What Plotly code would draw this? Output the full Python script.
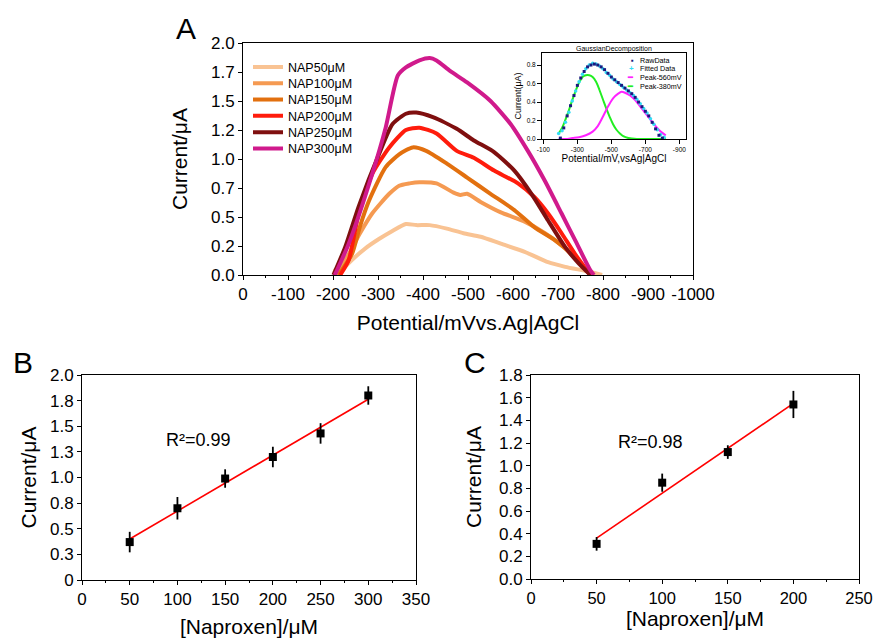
import numpy as np
import plotly.graph_objects as go

W, H = 875, 638
FONT = "Liberation Sans, Arial, sans-serif"

def fx(p):
    return p / W

def fy(p):
    return 1 - p / H

# ---------------- Panel A data (potential mV, current uA) ----------------
series_names = ["NAP50μM", "NAP100μM", "NAP150μM", "NAP200μM", "NAP250μM", "NAP300μM"]
series_colors = ["#F9C393", "#F59A52", "#E2700F", "#FF1C0C", "#7F0F0F", "#D01A8C"]

nap50_x = [-200, -215, -242, -272, -302, -332, -362, -385, -415, -453, -490, -528, -573, -626, -678, -716, -768, -798]
nap50_y = [0.04, 0.03, 0.13, 0.23, 0.31, 0.38, 0.44, 0.43, 0.43, 0.40, 0.36, 0.33, 0.27, 0.20, 0.11, 0.07, 0.03, 0.0]

nap100_x = [-208, -235, -260, -287, -325, -347, -370, -392, -430, -468, -483, -498, -528, -573, -626, -671, -716, -761, -776]
nap100_y = [0.0, 0.18, 0.36, 0.53, 0.70, 0.77, 0.79, 0.80, 0.79, 0.71, 0.69, 0.70, 0.63, 0.54, 0.46, 0.36, 0.23, 0.05, 0.0]

nap150_x = [-212, -242, -260, -280, -317, -347, -377, -407, -453, -498, -550, -603, -648, -693, -738, -772]
nap150_y = [0.0, 0.18, 0.42, 0.64, 0.93, 1.04, 1.10, 1.07, 0.96, 0.84, 0.70, 0.56, 0.41, 0.30, 0.15, 0.0]

nap200_x = [-216, -235, -257, -287, -325, -362, -392, -430, -475, -513, -558, -611, -648, -678, -708, -738, -772]
nap200_y = [0.0, 0.13, 0.53, 0.87, 1.10, 1.25, 1.27, 1.22, 1.07, 1.01, 0.90, 0.79, 0.67, 0.53, 0.36, 0.18, 0.0]

nap250_x = [-201, -227, -257, -302, -332, -362, -385, -422, -475, -513, -558, -603, -641, -678, -716, -746, -772]
nap250_y = [0.0, 0.24, 0.59, 1.04, 1.30, 1.39, 1.40, 1.36, 1.26, 1.16, 1.06, 0.90, 0.70, 0.47, 0.24, 0.10, 0.0]

nap300_x = [-204, -235, -287, -317, -344, -362, -392, -415, -430, -460, -498, -550, -595, -633, -671, -708, -738, -772, -780]
nap300_y = [0.0, 0.27, 0.87, 1.27, 1.72, 1.79, 1.85, 1.87, 1.85, 1.76, 1.66, 1.50, 1.30, 1.07, 0.81, 0.53, 0.30, 0.04, 0.0]

series_x = [nap50_x, nap100_x, nap150_x, nap200_x, nap250_x, nap300_x]
series_y = [nap50_y, nap100_y, nap150_y, nap200_y, nap250_y, nap300_y]

a_xticks = [0, -100, -200, -300, -400, -500, -600, -700, -800, -900, -1000]
a_xticklabels = ["0", "-100", "-200", "-300", "-400", "-500", "-600", "-700", "-800", "-900", "-1000"]
a_yticks = [0, 0.25, 0.5, 0.75, 1.0, 1.25, 1.5, 1.75, 2.0]
a_yticklabels = ["0.0", "0.2", "0.5", "0.7", "1.0", "1.2", "1.5", "1.7", "2.0"]

# ---------------- Inset data (Gaussian decomposition) ----------------
raw_x = [-200, -220, -240, -260, -280, -300, -320, -340, -360, -380, -400, -420, -440, -460, -480, -500,
         -520, -540, -560, -580, -600, -620, -640, -660, -680, -700, -720, -740, -760, -780, -800]
raw_y = [0.01, 0.12, 0.25, 0.36, 0.47, 0.58, 0.66, 0.73, 0.78, 0.80, 0.81, 0.80, 0.78, 0.75, 0.71, 0.67,
         0.64, 0.61, 0.58, 0.55, 0.52, 0.49, 0.45, 0.40, 0.35, 0.30, 0.25, 0.18, 0.11, 0.04, 0.01]

fit_x = [-190, -210, -230, -250, -270, -290, -310, -330, -350, -370, -390, -410, -430, -450, -470, -490,
         -510, -530, -550, -570, -590, -610, -630, -650, -670, -690, -710, -730, -750, -770, -790, -810]
fit_y = [0.06, 0.09, 0.18, 0.29, 0.41, 0.52, 0.62, 0.70, 0.76, 0.80, 0.82, 0.81, 0.79, 0.76, 0.72, 0.69,
         0.65, 0.62, 0.59, 0.56, 0.53, 0.50, 0.47, 0.43, 0.38, 0.33, 0.28, 0.22, 0.16, 0.10, 0.05, 0.02]

p560_x = [-190, -230, -270, -310, -350, -390, -420, -450, -480, -510, -540, -560, -580, -610, -640, -670,
          -700, -730, -760, -790, -820]
p560_y = [0.0, 0.0, 0.01, 0.02, 0.04, 0.08, 0.14, 0.24, 0.35, 0.44, 0.49, 0.51, 0.50, 0.47, 0.42, 0.35,
          0.28, 0.21, 0.14, 0.08, 0.04]

p380_x = [-190, -210, -230, -250, -270, -290, -310, -330, -350, -370, -390, -410, -430, -450, -470, -490,
          -510, -530, -550, -570, -600, -650, -700, -750, -800, -820]
p380_y = [0.06, 0.12, 0.21, 0.31, 0.42, 0.52, 0.61, 0.67, 0.69, 0.69, 0.67, 0.62, 0.53, 0.43, 0.33, 0.24,
          0.16, 0.10, 0.06, 0.03, 0.01, 0.0, 0.0, 0.0, 0.0, 0.0]

inset_xticks = [-100, -300, -500, -700, -900]
inset_xticklabels = ["-100", "-300", "-500", "-700", "-900"]
inset_yticks = [0.0, 0.2, 0.4, 0.6, 0.8]
inset_yticklabels = ["0.0", "0.2", "0.4", "0.6", "0.8"]

# ---------------- Panel B data ----------------
b_conc = [50, 100, 150, 200, 250, 300]
b_current = [0.37, 0.70, 0.99, 1.20, 1.43, 1.80]
b_err = [0.10, 0.11, 0.09, 0.10, 0.10, 0.09]
b_r2 = "R²=0.99"
b_xticks = [0, 50, 100, 150, 200, 250, 300, 350]
b_yticks = [0, 0.25, 0.5, 0.75, 1.0, 1.25, 1.5, 1.75, 2.0]
b_yticklabels = ["0", "0.3", "0.5", "0.8", "1.0", "1.3", "1.5", "1.8", "2.0"]

# ---------------- Panel C data ----------------
c_conc = [50, 100, 150, 200]
c_current = [0.31, 0.85, 1.12, 1.54]
c_err = [0.06, 0.08, 0.06, 0.12]
c_r2 = "R²=0.98"
c_xticks = [0, 50, 100, 150, 200, 250]
c_yticks = [0.0, 0.2, 0.4, 0.6, 0.8, 1.0, 1.2, 1.4, 1.6, 1.8]
c_yticklabels = ["0.0", "0.2", "0.4", "0.6", "0.8", "1.0", "1.2", "1.4", "1.6", "1.8"]

fig = go.Figure()

# Panel A curves, one legend per entry to reproduce tight spacing
leg_row0 = 67.3
leg_step = 16.3
for i, (name, col, xs, ys) in enumerate(zip(series_names, series_colors, series_x, series_y)):
    leg_id = "legend" if i == 0 else f"legend{i + 1}"
    fig.add_trace(go.Scatter(
        x=xs, y=ys, mode="lines", name=name,
        line=dict(color=col, width=4, shape="spline", smoothing=0.6),
        xaxis="x", yaxis="y", legend=leg_id, showlegend=True,
    ))

# Inset traces
fig.add_trace(go.Scatter(x=p380_x, y=p380_y, mode="lines", name="Peak-380mV",
                         line=dict(color="#22EE22", width=2, shape="spline"),
                         xaxis="x2", yaxis="y2", showlegend=False))
fig.add_trace(go.Scatter(x=p560_x, y=p560_y, mode="lines", name="Peak-560mV",
                         line=dict(color="#FF22FF", width=2, shape="spline"),
                         xaxis="x2", yaxis="y2", showlegend=False))
fig.add_trace(go.Scatter(x=fit_x, y=fit_y, mode="markers", name="Fitted Data",
                         marker=dict(color="#33DDF5", size=3.5, symbol="circle"),
                         xaxis="x2", yaxis="y2", showlegend=False))
fig.add_trace(go.Scatter(x=raw_x, y=raw_y, mode="markers", name="RawData",
                         marker=dict(color="#1A1A80", size=3, symbol="square"),
                         xaxis="x2", yaxis="y2", showlegend=False))

# Panel B
b_coef = np.polyfit(b_conc, b_current, 1)
b_fit_x = [min(b_conc), max(b_conc)]
b_fit_y = [b_coef[0] * v + b_coef[1] for v in b_fit_x]
fig.add_trace(go.Scatter(x=b_fit_x, y=b_fit_y, mode="lines", line=dict(color="#FF0000", width=1.6),
                         xaxis="x3", yaxis="y3", showlegend=False))
fig.add_trace(go.Scatter(x=b_conc, y=b_current, mode="markers",
                         marker=dict(color="black", size=8, symbol="square"),
                         error_y=dict(type="data", array=b_err, color="black", thickness=1.8, width=0),
                         xaxis="x3", yaxis="y3", showlegend=False))

# Panel C
c_coef = np.polyfit(c_conc, c_current, 1)
c_fit_x = [min(c_conc), max(c_conc)]
c_fit_y = [c_coef[0] * v + c_coef[1] for v in c_fit_x]
fig.add_trace(go.Scatter(x=c_fit_x, y=c_fit_y, mode="lines", line=dict(color="#FF0000", width=1.6),
                         xaxis="x4", yaxis="y4", showlegend=False))
fig.add_trace(go.Scatter(x=c_conc, y=c_current, mode="markers",
                         marker=dict(color="black", size=8, symbol="square"),
                         error_y=dict(type="data", array=c_err, color="black", thickness=1.8, width=0),
                         xaxis="x4", yaxis="y4", showlegend=False))

def axis_common(size=17):
    return dict(showline=True, linecolor="black", linewidth=1, mirror=True,
                showgrid=False, zeroline=False, ticks="outside", ticklen=4, tickwidth=1,
                tickcolor="black", tickfont=dict(family=FONT, size=size, color="black"),
                automargin=False, ticklabeloverflow="allow")

title_font = dict(family=FONT, size=21, color="black")

layout = dict(
    width=W, height=H,
    margin=dict(l=0, r=0, t=0, b=0),
    paper_bgcolor="white", plot_bgcolor="white",
    font=dict(family=FONT, color="black"),
    xaxis=dict(**axis_common(17), domain=[fx(243), fx(693)], range=[0, -1000],
               tickmode="array", tickvals=a_xticks, ticktext=a_xticklabels,
               minor=dict(ticks="outside", dtick=50, tick0=0, ticklen=2, tickcolor="black"),
               title=dict(text="Potential/mVvs.Ag|AgCl", font=title_font, standoff=11), anchor="y"),
    yaxis=dict(**axis_common(17), domain=[fy(275), fy(43)], range=[0, 2.0],
               tickmode="array", tickvals=a_yticks, ticktext=a_yticklabels,
               title=dict(text="Current/μA", font=title_font, standoff=17), anchor="x"),
    xaxis2=dict(**axis_common(6.5), domain=[fx(542), fx(686)], range=[-92, -939],
                tickmode="array", tickvals=inset_xticks, ticktext=inset_xticklabels,
                title=dict(text="Potential/mV,vsAg|AgCl", font=dict(family=FONT, size=10, color="black"), standoff=1),
                anchor="y2"),
    yaxis2=dict(**axis_common(6.5), domain=[fy(139), fy(53)], range=[0, 0.93],
                tickmode="array", tickvals=inset_yticks, ticktext=inset_yticklabels,
                title=dict(text="Current(μA)", font=dict(family=FONT, size=9, color="black"), standoff=3),
                anchor="x2"),
    xaxis3=dict(**axis_common(17), domain=[fx(82), fx(416)], range=[0, 350],
                tickmode="array", tickvals=b_xticks,
                minor=dict(ticks="outside", dtick=25, tick0=0, ticklen=2, tickcolor="black"),
                title=dict(text="[Naproxen]/μM", font=title_font, standoff=17), anchor="y3"),
    yaxis3=dict(**axis_common(17), domain=[fy(580), fy(375)], range=[0, 2.0],
                tickmode="array", tickvals=b_yticks, ticktext=b_yticklabels,
                title=dict(text="Current/μA", font=title_font, standoff=7), anchor="x3"),
    xaxis4=dict(**axis_common(16.5), domain=[fx(531), fx(859)], range=[0, 250],
                tickmode="array", tickvals=c_xticks,
                minor=dict(ticks="outside", dtick=25, tick0=0, ticklen=2, tickcolor="black"),
                title=dict(text="[Naproxen]/μM", font=title_font, standoff=3), anchor="y4"),
    yaxis4=dict(**axis_common(17), domain=[fy(579), fy(375)], range=[0, 1.8],
                tickmode="array", tickvals=c_yticks, ticktext=c_yticklabels,
                title=dict(text="Current/μA", font=title_font, standoff=11), anchor="x4"),
)

# legends
for i in range(len(series_names)):
    key = "legend" if i == 0 else f"legend{i + 1}"
    layout[key] = dict(x=fx(248), y=fy(leg_row0 + i * leg_step), xanchor="left", yanchor="middle",
                       bgcolor="rgba(0,0,0,0)", borderwidth=0,
                       font=dict(family=FONT, size=12.5, color="black"))

fig.update_layout(**layout)

def ann(text, x, y, size, color="black", xref="paper", yref="paper", xanchor="center"):
    return dict(text=text, x=x, y=y, xref=xref, yref=yref, showarrow=False,
                xanchor=xanchor, yanchor="middle", font=dict(family=FONT, size=size, color=color))

annotations = [
    ann("A", fx(186), fy(28), 30),
    ann("B", fx(23), fy(362), 30),
    ann("C", fx(475), fy(362), 30),
    ann(b_r2, 121.6, 1.366, 18, xref="x3", yref="y3"),
    ann(c_r2, 91.1, 1.209, 18, xref="x4", yref="y4"),
    ann("GaussianDecomposition", fx(614), fy(48.5), 7, color="#000000"),
]

# Inset legend (compact rows)
inset_leg_names = ["RawData", "Fitted Data", "Peak-560mV", "Peak-380mV"]
inset_leg_sw = ["<b>▪</b>", "<b>+</b>", "<b>━</b>", "<b>━</b>"]
inset_leg_cols = ["#1A1A80", "#33DDF5", "#FF22FF", "#22EE22"]
inset_rows = [60, 69, 77.5, 86]
for nm, sw, col, ry in zip(inset_leg_names, inset_leg_sw, inset_leg_cols, inset_rows):
    annotations.append(ann(sw, fx(636), fy(ry), 8, color=col, xanchor="right"))
    annotations.append(ann(nm, fx(638), fy(ry), 7.2, xanchor="left"))

fig.update_layout(annotations=annotations)

fig.write_html("out.html", config={"displayModeBar": False},
               post_script="document.body.style.margin='0px';document.body.style.padding='0px';")
